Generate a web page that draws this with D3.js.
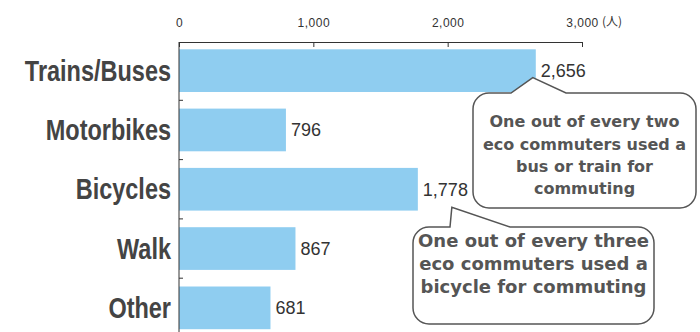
<!DOCTYPE html>
<html>
<head>
<meta charset="utf-8">
<script src="https://cdn.jsdelivr.net/npm/d3@7"></script>
<style>
  body { margin: 0; background: #fff; }
  svg { display: block; }
</style>
</head>
<body>
<div id="chart"></div>
<script>
// commuters by mode
const categories = ["Trains/Buses", "Motorbikes", "Bicycles", "Walk", "Other"];
const values = [2656, 796, 1778, 867, 681];
const tickValues = [0, 1000, 2000, 3000];
const unitLabel = "(人)";

// callout texts, tied to a category
const noteCats = ["Trains/Buses", "Bicycles"];
const noteLines = [
  ["One out of every two", "eco commuters used a", "bus or train for", "commuting"],
  ["One out of every three", "eco commuters used a", "bicycle for commuting"]
];

const width = 700, height = 332;
const margin = { top: 42, left: 179 };

const svg = d3.select("#chart").append("svg")
  .attr("width", width)
  .attr("height", height);

const x = d3.scaleLinear()
  .domain([0, 3000])
  .range([margin.left, 582]);

const y = d3.scaleBand()
  .domain(categories)
  .range([41, 337.5])
  .paddingInner(0.28)
  .paddingOuter(0.14);

// bars
svg.append("g")
  .attr("fill", "#8fcdf0")
  .selectAll("rect")
  .data(categories)
  .join("rect")
    .attr("x", x(0))
    .attr("y", d => y(d))
    .attr("width", (d, i) => x(values[i]) - x(0))
    .attr("height", y.bandwidth());

// top axis
const xAxis = svg.append("g")
  .attr("transform", `translate(0,${margin.top})`)
  .call(d3.axisTop(x).tickValues(tickValues).tickFormat(d3.format(","))
    .tickSizeInner(-5).tickSizeOuter(0).tickPadding(15));
xAxis.select(".domain").attr("stroke", "#333");
xAxis.selectAll(".tick line").attr("stroke", "#333");
xAxis.selectAll("text")
  .attr("font-family", "'Liberation Sans', Arial, sans-serif")
  .attr("font-size", 12)
  .attr("letter-spacing", 0.5)
  .attr("fill", "#333");

svg.append("text")
  .attr("x", x(3000) + 20)
  .attr("y", 26)
  .attr("font-family", "'Noto Sans CJK JP', sans-serif")
  .attr("font-size", 12)
  .attr("fill", "#333")
  .text(unitLabel);

// left axis line + ticks between categories
svg.append("line")
  .attr("x1", x(0)).attr("x2", x(0))
  .attr("y1", margin.top).attr("y2", height)
  .attr("stroke", "#333");

const gap = y.step() * y.paddingInner() / 2;
svg.append("g")
  .selectAll("line")
  .data(categories.slice(1))
  .join("line")
    .attr("x1", x(0)).attr("x2", x(0) + 4)
    .attr("y1", d => y(d) - gap)
    .attr("y2", d => y(d) - gap)
    .attr("stroke", "#333");

// category labels (narrow bold)
svg.append("g")
  .selectAll("text")
  .data(categories)
  .join("text")
    .attr("transform", d => `translate(171,${y(d) + y.bandwidth() / 2 + 10}) scale(0.81,1)`)
    .attr("text-anchor", "end")
    .attr("font-family", "'Liberation Sans', Arial, sans-serif")
    .attr("font-weight", "bold")
    .attr("font-size", 29)
    .attr("fill", "#444")
    .text(d => d);

// value labels
svg.append("g")
  .selectAll("text")
  .data(categories)
  .join("text")
    .attr("x", (d, i) => x(values[i]) + 5)
    .attr("y", d => y(d) + y.bandwidth() / 2 + 6.5)
    .attr("font-family", "'Liberation Sans', Arial, sans-serif")
    .attr("font-size", 18)
    .attr("fill", "#333")
    .text((d, i) => d3.format(",")(values[i]));

// callouts
const boxes = [
  { L: 473, R: 696, T: 93, B: 208, a: 511, b: 566, dx: -3, dy: 7, size: 16, lh: 22.2, first: 127.3 },
  { L: 413, R: 654, T: 227, B: 324, a: 450, b: 510, dx: 34, dy: 18, size: 18, lh: 23.3, first: 246.7 }
];

function calloutPath(bx, px, py) {
  const r = 16;
  return `M${bx.L + r},${bx.T} H${bx.a} L${px},${py} L${bx.b},${bx.T} H${bx.R - r}` +
    ` A${r},${r} 0 0 1 ${bx.R},${bx.T + r} V${bx.B - r}` +
    ` A${r},${r} 0 0 1 ${bx.R - r},${bx.B} H${bx.L + r}` +
    ` A${r},${r} 0 0 1 ${bx.L},${bx.B - r} V${bx.T + r}` +
    ` A${r},${r} 0 0 1 ${bx.L + r},${bx.T} Z`;
}

noteCats.forEach((cat, k) => {
  const bx = boxes[k];
  const v = values[categories.indexOf(cat)];
  const px = x(v) + bx.dx;
  const py = y(cat) + y.bandwidth() / 2 + bx.dy;
  svg.append("path")
    .attr("d", calloutPath(bx, px, py))
    .attr("fill", "#fff")
    .attr("stroke", "#555")
    .attr("stroke-width", 1.5);
  svg.append("g")
    .selectAll("text")
    .data(noteLines[k])
    .join("text")
      .attr("x", (bx.L + bx.R) / 2)
      .attr("y", (d, i) => bx.first + i * bx.lh)
      .attr("text-anchor", "middle")
      .attr("font-family", "'DejaVu Sans', Verdana, sans-serif")
      .attr("font-weight", "bold")
      .attr("font-size", bx.size)
      .attr("fill", "#555")
      .text(d => d);
});
</script>
</body>
</html>
